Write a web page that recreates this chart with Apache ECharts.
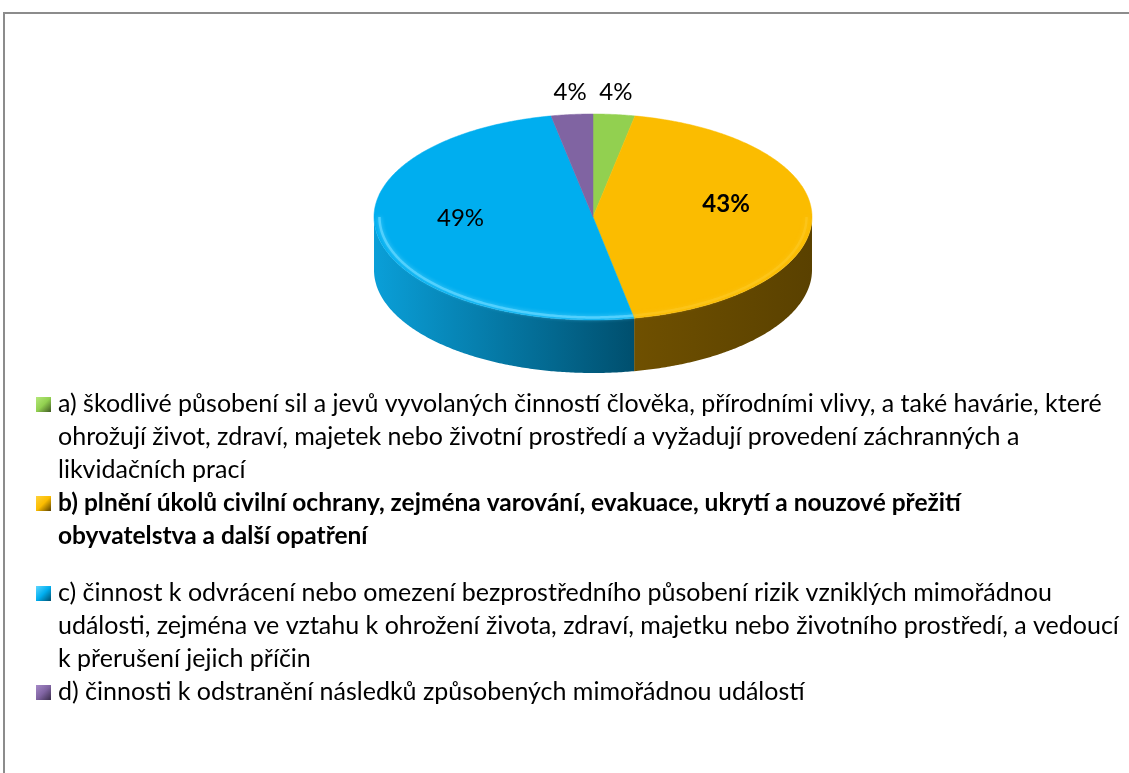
<!DOCTYPE html>
<html>
<head>
<meta charset="utf-8">
<title>Mimořádná událost</title>
<script src="https://cdn.jsdelivr.net/npm/echarts@6/dist/echarts.min.js"></script>
<style>
  html, body { margin: 0; padding: 0; background: #fff; }
  #chart { width: 1129px; height: 773px; }
</style>
</head>
<body>
<div id="chart"></div>
<script>
/*
 * data
 */
var legendLines = [
  ['a) škodlivé působení sil a jevů vyvolaných činností člověka, přírodními vlivy, a také havárie, které',
   'ohrožují život, zdraví, majetek nebo životní prostředí a vyžadují provedení záchranných a',
   'likvidačních prací'],
  ['b) plnění úkolů civilní ochrany, zejména varování, evakuace, ukrytí a nouzové přežití',
   'obyvatelstva a další opatření'],
  ['c) činnost k odvrácení nebo omezení bezprostředního působení rizik vzniklých mimořádnou',
   'události, zejména ve vztahu k ohrožení života, zdraví, majetku nebo životního prostředí, a vedoucí',
   'k přerušení jejich příčin'],
  ['d) činnosti k odstranění následků způsobených mimořádnou událostí']
];
var categories = legendLines.map(function (l) { return l.join(' '); });
var shares = [4, 43, 49, 4]; // %

/*
 * vzhled
 */
var topColors = ['#92d050', '#fbbc00', '#00aeef', '#8064a2'];
var sideColors = [['#6f9e3c', '#3f5a22'], ['#6f5000', '#5a4100'], ['#0a9fd8', '#004f6e'], ['#624d7c', '#3a2d4a']];
var rimColors = ['#b5e87a', '#ffd23a', '#5fd6ff', '#a68ac8'];
var rimAlpha = [0.8, 0.35, 0.8, 0.8];
var boldItem = [false, true, false, false];
var fontName = 'Lato, "Open Sans", sans-serif';

var pie = { cx: 593, cy: 217, rx: 219, ry: 103, depth: 53, persp: 0.24 };
var legendPos = { iconX: 36, textX: 58, y0: 404, lineH: 33, afterGap: [0, 24, 0, 0] };

var total = shares.reduce(function (s, v) { return s + v; }, 0);

// uhel na obrazovce (zadni cast kolace je perspektivou stlacena)
function project(t) {
  return t - pie.persp * Math.sin(t) * (1 + Math.cos(t)) / 2;
}
function pt(t, dy, f) {
  f = f === undefined ? 1 : f;
  return [pie.cx + pie.rx * f * Math.sin(t), pie.cy - pie.ry * f * Math.cos(t) + (dy || 0)];
}
function arc(a, b, dy, f) {
  var out = [];
  var n = Math.max(2, Math.ceil(Math.abs(b - a) / 0.01));
  for (var i = 0; i <= n; i++) out.push(pt(a + (b - a) * i / n, dy, f));
  return out;
}

function renderSlice(params, api) {
  var i = params.dataIndex;
  var v = api.value(0);
  var start = 0;
  for (var j = 0; j < i; j++) start += shares[j];
  var a0 = start / total * Math.PI * 2;
  var a1 = (start + v) / total * Math.PI * 2;
  var t1 = project(a0), t2 = project(a1);
  var children = [];

  // bocni stena - jen predni cast
  var s1 = Math.max(t1, Math.PI / 2), s2 = Math.min(t2, Math.PI * 1.5);
  if (s1 < s2) {
    var pts = arc(s1, s2, 0).concat(arc(s2, s1, pie.depth));
    var xs = pts.map(function (p) { return p[0]; });
    children.push({
      type: 'polygon',
      z2: 1,
      shape: { points: pts },
      style: {
        fill: {
          type: 'linear', global: true,
          x: Math.min.apply(null, xs), y: 0, x2: Math.max.apply(null, xs), y2: 0,
          colorStops: [
            { offset: 0, color: sideColors[i][0] },
            { offset: 1, color: sideColors[i][1] }
          ]
        },
        stroke: null
      }
    });
    // svetly okraj horni plochy
    children.push({
      type: 'polyline',
      z2: 12,
      shape: { points: arc(s1, s2, 0, 0.975) },
      style: { stroke: rimColors[i], lineWidth: 2.5, fill: null, opacity: rimAlpha[i], shadowBlur: 4, shadowColor: rimColors[i] }
    });
  }

  // horni plocha
  children.push({
    type: 'polygon',
    z2: 10,
    shape: { points: [[pie.cx, pie.cy]].concat(arc(t1, t2, 0)) },
    style: { fill: topColors[i], stroke: topColors[i], lineWidth: 0.5 }
  });

  // popisek
  var tm = project((a0 + a1) / 2);
  var lp;
  if (v / total >= 0.1) {
    lp = pt(tm, -7, 0.61);
  } else {
    var e = pt(tm, 0);
    lp = [e[0] + Math.sin(tm) * 20, e[1] - 22];
  }
  children.push({
    type: 'text',
    z2: 20,
    x: lp[0], y: lp[1],
    style: {
      text: Math.round(v / total * 100) + '%',
      fontFamily: fontName,
      fontSize: 24,
      fontWeight: boldItem[i] ? 'bold' : 'normal',
      fill: '#000',
      align: 'center',
      verticalAlign: 'middle'
    }
  });

  return { type: 'group', children: children };
}

// legenda
function buildLegend() {
  var els = [];
  var y = legendPos.y0;
  legendLines.forEach(function (lines, i) {
    els.push({
      type: 'rect',
      shape: { x: legendPos.iconX, y: y - 7, width: 15, height: 15 },
      style: {
        fill: {
          type: 'linear', x: 0, y: 0, x2: 1, y2: 1,
          colorStops: [
            { offset: 0, color: rimColors[i] },
            { offset: 0.5, color: topColors[i] },
            { offset: 1, color: sideColors[i][1] }
          ]
        }
      }
    });
    els.push({
      type: 'text',
      x: legendPos.textX, y: y - legendPos.lineH / 2,
      style: {
        text: lines.join('\n'),
        fontFamily: fontName,
        fontSize: boldItem[i] ? 24.5 : 25,
        fontWeight: boldItem[i] ? 'bold' : 'normal',
        lineHeight: legendPos.lineH,
        fill: '#000',
        align: 'left',
        verticalAlign: 'top'
      }
    });
    y += lines.length * legendPos.lineH + legendPos.afterGap[i];
  });
  return els;
}

var chart = echarts.init(document.getElementById('chart'));
chart.setOption({
  animation: false,
  backgroundColor: '#fff',
  graphic: [
    {
      type: 'rect',
      shape: { x: 4, y: 13, width: 1140, height: 800 },
      style: { fill: null, stroke: '#8c8c8c', lineWidth: 2 }
    }
  ].concat(buildLegend()),
  series: [{
    type: 'custom',
    coordinateSystem: 'none',
    renderItem: renderSlice,
    data: shares.map(function (v, i) { return { name: categories[i], value: [v] }; })
  }]
});
</script>
</body>
</html>
